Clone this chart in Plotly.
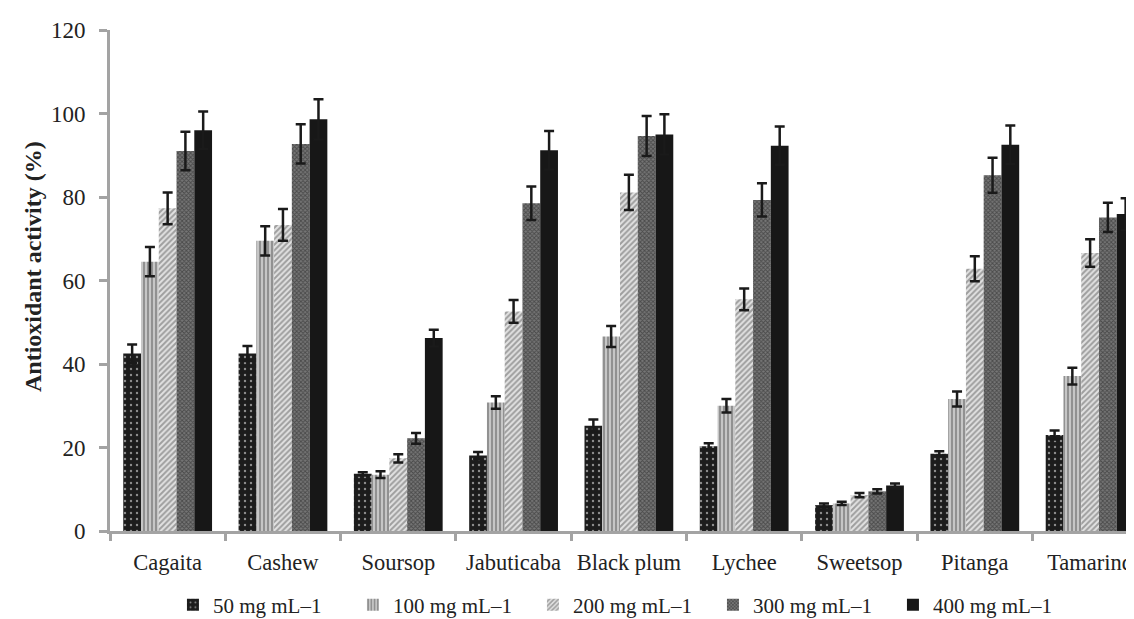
import plotly.graph_objects as go

categories = ["Cagaita", "Cashew", "Soursop", "Jabuticaba", "Black plum",
              "Lychee", "Sweetsop", "Pitanga", "Tamarind"]
series_names = ["50 mg mL–1", "100 mg mL–1", "200 mg mL–1", "300 mg mL–1", "400 mg mL–1"]

v50 = [42.5, 42.5, 13.7, 18.1, 25.2, 20.3, 6.2, 18.5, 23.0]
v100 = [64.5, 69.5, 13.5, 30.8, 46.6, 30.0, 6.6, 31.6, 37.1]
v200 = [77.3, 73.3, 17.4, 52.6, 81.1, 55.5, 8.6, 62.8, 66.6]
v300 = [91.0, 92.7, 22.2, 78.5, 94.6, 79.3, 9.5, 85.2, 75.1]
v400 = [96.0, 98.6, 46.2, 91.2, 95.0, 92.3, 10.9, 92.5, 75.9]

e50 = [2.2, 1.8, 0.4, 0.8, 1.5, 0.7, 0.4, 0.6, 1.1]
e100 = [3.5, 3.5, 0.8, 1.5, 2.5, 1.6, 0.4, 1.8, 2.0]
e200 = [3.8, 3.8, 1.0, 2.7, 4.2, 2.6, 0.5, 3.0, 3.3]
e300 = [4.6, 4.7, 1.3, 4.0, 4.8, 4.0, 0.5, 4.2, 3.5]
e400 = [4.5, 4.8, 2.0, 4.6, 4.8, 4.6, 0.5, 4.6, 3.8]

y_ticks = [0, 20, 40, 60, 80, 100, 120]

values = [v50, v100, v200, v300, v400]
errors = [e50, e100, e200, e300, e400]

patterns = [
    dict(shape=".", bgcolor="#1c1c1c", fgcolor="#ffffff", size=6, solidity=0.12),
    dict(shape="|", bgcolor="#c6c6c6", fgcolor="#5c5c5c", size=4, solidity=0.5),
    dict(shape="/", bgcolor="#e2e2e2", fgcolor="#5a5a5a", size=4, solidity=0.5),
    dict(shape="x", bgcolor="#767676", fgcolor="#1e1e1e", size=3, solidity=0.5),
    dict(shape="", bgcolor="#171717", fgcolor="#171717", size=4, solidity=1),
]
colors = ["#1c1c1c", "#a0a0a0", "#b0b0b0", "#444444", "#171717"]

font_family = "Liberation Serif, Times New Roman, serif"

fig = go.Figure()
for name, vals, errs, pat, col in zip(series_names, values, errors, patterns, colors):
    fig.add_trace(go.Bar(
        x=categories, y=vals, name=name,
        marker=dict(color=col, pattern=pat, line=dict(width=0)),
        error_y=dict(type="data", array=errs, visible=True,
                     color="#1a1a1a", thickness=2.5, width=5),
    ))

axis_gray = "#a3a3a3"
fig.update_layout(
    width=1134, height=619,
    margin=dict(l=102, r=0, t=22, b=96, autoexpand=False),
    paper_bgcolor="white", plot_bgcolor="white",
    barmode="group", bargap=0.23, bargroupgap=0,
    font=dict(family=font_family, size=23, color="#222222"),
    showlegend=True,
    legend=dict(orientation="h", x=0.061, xanchor="left", y=-0.148, yanchor="middle",
                font=dict(family=font_family, size=21, color="#222222"),
                entrywidth=135, entrywidthmode="pixels",
                itemwidth=30, traceorder="normal"),
    xaxis=dict(type="category", range=[-0.5, 8.45], showline=True, linecolor=axis_gray,
               linewidth=3, ticks="outside", tickson="boundaries", ticklen=7,
               tickwidth=2.5, tickcolor=axis_gray, showgrid=False, zeroline=False,
               tickangle=0, ticklabelstandoff=9,
               tickfont=dict(family=font_family, size=22.5, color="#222222")),
    yaxis=dict(range=[0, 120], tickvals=y_ticks, showline=True, linecolor=axis_gray,
               linewidth=3, ticks="outside", ticklen=8, tickwidth=2.5, tickcolor=axis_gray,
               showgrid=False, zeroline=False, ticklabelstandoff=9,
               tickfont=dict(family=font_family, size=23, color="#222222")),
    annotations=[dict(text="<b>Antioxidant activity (%)</b>", textangle=-90,
                      xref="paper", yref="paper", x=(25 - 102) / 1032, y=(523 - 259) / 501,
                      xanchor="center", yanchor="middle", showarrow=False,
                      font=dict(family=font_family, size=24, color="#222222"))],
)

fig.write_html("out.html")
